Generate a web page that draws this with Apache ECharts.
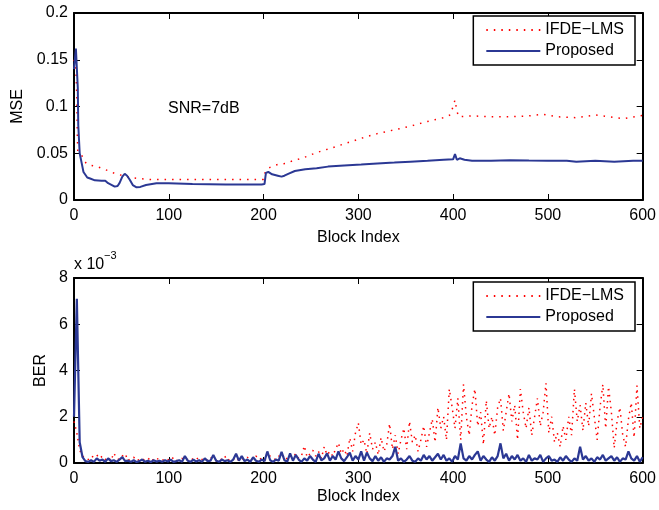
<!DOCTYPE html>
<html>
<head>
<meta charset="utf-8">
<script src="https://cdn.jsdelivr.net/npm/echarts@6/dist/echarts.min.js"></script>
<style>
  html, body { margin: 0; padding: 0; background: #fff; }
  #chart { width: 659px; height: 510px; }
</style>
</head>
<body>
<div id="chart"></div>
<script>
const legendNames = ['IFDE\u2212LMS', 'Proposed'];
const xTicks = [0, 100, 200, 300, 400, 500, 600];

// MSE, upper panel
const mseIfdeBlocks = [0, 2, 3, 3.5, 4, 6, 8, 11, 13, 18, 24, 29, 37, 44, 52, 60, 68, 80, 100, 130, 160, 190, 200,
  202, 207, 215, 223, 231, 238, 247, 254, 263, 270, 285, 303, 320, 338, 355, 373, 390, 397, 400, 402, 404, 406,
  420, 440, 460, 480, 495, 510, 530, 550, 565, 580, 600];
const mseIfde = [0.15, 0.14, 0.11, 0.07, 0.052, 0.05, 0.048, 0.042, 0.039, 0.037, 0.036, 0.034, 0.031, 0.028, 0.026,
  0.024, 0.023, 0.022, 0.022, 0.022, 0.022, 0.022, 0.022,
  0.031, 0.035, 0.038, 0.039, 0.042, 0.044, 0.047, 0.05, 0.053, 0.055, 0.06, 0.066, 0.071, 0.075, 0.079, 0.084,
  0.088, 0.091, 0.1, 0.107, 0.095, 0.089,
  0.09, 0.089, 0.089, 0.09, 0.0917, 0.089, 0.088, 0.091, 0.089, 0.087, 0.0905];

const mseProposedBlocks = [0, 2, 3.5, 4, 4.5, 6, 8, 10, 14, 17, 22, 29, 33, 36, 40, 43, 46, 48, 51, 53.5, 56, 59, 62,
  66, 70, 76, 87, 100, 125, 160, 198, 201, 202.5, 205, 209, 215, 219, 222, 226, 233, 244, 256, 268, 285, 303, 320,
  338, 355, 373, 390, 400, 402, 404, 407, 412, 420, 440, 460, 480, 500, 520, 530, 550, 570, 590, 600];
const mseProposed = [0.14, 0.162, 0.164, 0.12, 0.08, 0.05, 0.04, 0.03, 0.024, 0.023, 0.021, 0.0207, 0.0205, 0.018,
  0.016, 0.0143, 0.015, 0.018, 0.025, 0.028, 0.026, 0.0214, 0.016,
  0.0136, 0.014, 0.016, 0.0178, 0.0178, 0.017, 0.0167, 0.0167, 0.017, 0.029, 0.03, 0.0275, 0.026, 0.025, 0.026,
  0.028, 0.031, 0.033, 0.034, 0.0357, 0.037, 0.038, 0.039,
  0.04, 0.041, 0.042, 0.043, 0.0435, 0.049, 0.043, 0.0446, 0.043, 0.042, 0.042, 0.0425, 0.0422, 0.042, 0.042,
  0.041, 0.042, 0.041, 0.042, 0.042];

// BER (x 10^-3), lower panel, one value every 3 blocks
const berStep = 3;
const berIfde = [
  1.8, 1.3, 0.56, 0.3, 0.2, 0.15, 0.3, 0.25, 0.35, 0.2,
  0.3, 0.15, 0.25, 0.1, 0.43, 0.2, 0.15, 0.3, 0.4, 0.1,
  0.2, 0.25, 0.1, 0.15, 0.2, 0.1, 0.15, 0.25, 0.1, 0.2,
  0.15, 0.1, 0.2, 0.15, 0.1, 0.25, 0.1, 0.15, 0.2, 0.1,
  0.15, 0.1, 0.2, 0.25, 0.1, 0.15, 0.2, 0.1, 0.25, 0.15,
  0.1, 0.2, 0.15, 0.3, 0.1, 0.2, 0.15, 0.25, 0.1, 0.2,
  0.15, 0.25, 0.1, 0.2, 0.3, 0.15, 0.2, 0.1, 0.25, 0.3,
  0.2, 0.15, 0.3, 0.2, 0.35, 0.15, 0.3, 0.25, 0.4, 0.2,
  0.3, 0.74, 0.25, 0.4, 0.55, 0.3, 0.5, 0.2, 0.7, 0.35,
  0.5, 0.3, 0.6, 0.87, 0.4, 0.6, 0.3, 1.08, 0.5, 1.3,
  1.73, 0.8, 1.0, 0.4, 1.3, 0.6, 0.9, 0.35, 1.1, 0.5,
  0.8, 1.7, 0.6, 1.2, 0.4, 1.0, 1.5, 0.6, 1.8, 0.9,
  1.2, 0.5, 1.0, 1.6, 0.7, 1.3, 1.9, 0.9, 2.4, 1.5,
  2.0, 1.0, 3.2, 2.4, 1.5, 2.8, 1.0, 3.4, 2.0, 1.2,
  2.5, 3.2, 1.6, 2.2, 0.8, 2.7, 1.5, 2.0, 1.2, 2.4,
  2.8, 1.4, 2.2, 3.0, 1.8, 2.5, 1.0, 3.2, 2.2, 1.5,
  2.4, 1.2, 2.0, 2.8, 1.6, 2.2, 3.45, 1.3, 2.0, 0.9,
  1.3, 0.7, 1.6, 1.0, 2.0, 1.2, 3.2, 1.8, 2.5, 1.4,
  2.6, 1.6, 3.0, 2.0, 1.0, 2.4, 3.4, 1.5, 3.3, 2.2,
  0.65, 1.8, 2.4, 1.2, 0.7, 1.9, 2.6, 1.1, 3.35, 1.5,
  2.0
];
const berProposed = [
  2.0, 7.1, 0.9, 0.25, 0.08, 0.05, 0.12, 0.05, 0.2, 0.1,
  0.15, 0.05, 0.2, 0.08, 0.12, 0.05, 0.15, 0.25, 0.08, 0.1,
  0.05, 0.12, 0.04, 0.08, 0.15, 0.05, 0.1, 0.04, 0.12, 0.06,
  0.1, 0.05, 0.12, 0.06, 0.15, 0.05, 0.08, 0.12, 0.05, 0.3,
  0.1, 0.05, 0.15, 0.06, 0.12, 0.05, 0.2, 0.08, 0.1, 0.35,
  0.1, 0.05, 0.15, 0.08, 0.12, 0.05, 0.15, 0.4, 0.1, 0.3,
  0.08, 0.15, 0.05, 0.25, 0.1, 0.05, 0.15, 0.08, 0.5, 0.12,
  0.05, 0.15, 0.1, 0.48, 0.12, 0.06, 0.42, 0.1, 0.35, 0.15,
  0.05, 0.2, 0.1, 0.3, 0.15, 0.05, 0.4, 0.12, 0.2, 0.42,
  0.1, 0.3, 0.15, 0.5, 0.2, 0.08, 0.25, 0.45, 0.1, 0.3,
  0.15, 0.5, 0.1, 0.45, 0.2, 0.08, 0.3, 0.1, 0.25, 0.05,
  0.2, 0.15, 0.3, 0.7, 0.1, 0.2, 0.05, 0.15, 0.3, 0.1,
  0.05, 0.2, 0.1, 0.35, 0.15, 0.3, 0.1, 0.25, 0.4, 0.15,
  0.35, 0.1, 0.2, 0.05, 0.3, 0.15, 0.85, 0.2, 0.1, 0.3,
  0.15, 0.35, 0.5, 0.1, 0.3, 0.15, 0.05, 0.25, 0.1, 0.3,
  0.85, 0.2, 0.4, 0.1, 0.3, 0.15, 0.35, 0.1, 0.2, 0.05,
  0.35, 0.1, 0.2, 0.15, 0.35, 0.05, 0.2, 0.3, 0.1, 0.15,
  0.05, 0.25, 0.1, 0.3, 0.15, 0.05, 0.2, 0.1, 0.7, 0.15,
  0.3, 0.1, 0.2, 0.05, 0.25, 0.15, 0.35, 0.1, 0.2, 0.3,
  0.1, 0.25, 0.05, 0.2, 0.15, 0.5, 0.2, 0.1, 0.3, 0.05,
  0.25
];

const FONT = '"Liberation Sans", Arial, sans-serif';
const RED = '#ff0000';
const BLUE = '#2b3894';

const pairs = (xs, ys) => xs.map((x, i) => [x, ys[i]]);
const stepped = (ys) => ys.map((y, i) => [i * berStep, y]);

const frameAxis = (extra) => Object.assign({
  axisLine: { show: true, onZero: false, lineStyle: { color: '#000', width: 2 } },
  axisTick: { show: true, inside: true, length: 6, lineStyle: { color: '#000', width: 1 } },
  splitLine: { show: false }
}, extra);

const xAxisPair = (gridIndex, nameGap) => [
  frameAxis({
    type: 'value', gridIndex, min: 0, max: 600, interval: 100, position: 'bottom',
    name: 'Block Index', nameLocation: 'middle', nameGap,
    nameTextStyle: { color: '#000', fontSize: 16, fontFamily: FONT },
    axisLabel: { color: '#000', fontSize: 16, fontFamily: FONT, margin: 8 }
  }),
  frameAxis({
    type: 'value', gridIndex, min: 0, max: 600, interval: 100, position: 'top',
    axisLabel: { show: false }
  })
];

const yAxisPair = (gridIndex, max, interval, name, nameGap) => [
  frameAxis({
    type: 'value', gridIndex, min: 0, max, interval, position: 'left',
    name, nameLocation: 'middle', nameGap,
    nameTextStyle: { color: '#000', fontSize: 16, fontFamily: FONT },
    axisLabel: { color: '#000', fontSize: 16, fontFamily: FONT, margin: 6 }
  }),
  frameAxis({
    type: 'value', gridIndex, min: 0, max, interval, position: 'right',
    axisLabel: { show: false }
  })
];

const legendBox = (top) => ({
  orient: 'vertical', right: 24, top,
  data: legendNames,
  backgroundColor: '#fff', borderColor: '#000', borderWidth: 1.5, borderRadius: 0,
  padding: [6, 11, 6, 12], itemGap: 5, itemWidth: 54, itemHeight: 14,
  itemStyle: { opacity: 0 },
  textStyle: { color: '#000', fontSize: 16, fontFamily: FONT },
  selectedMode: false
});

const chart = echarts.init(document.getElementById('chart'), null, { renderer: 'canvas' });
chart.setOption({
  animation: false,
  backgroundColor: '#fff',
  grid: [
    { left: 74, right: 12, top: 13, height: 187 },
    { left: 74, right: 12, top: 278, height: 185 }
  ],
  xAxis: [...xAxisPair(0, 30), ...xAxisPair(1, 26)],
  yAxis: [...yAxisPair(0, 0.2, 0.05, 'MSE', 47), ...yAxisPair(1, 8, 2, 'BER', 22)],
  legend: [legendBox(16), legendBox(282)],
  graphic: [
    { type: 'text', left: 168, top: 101, style: { text: 'SNR=7dB', fill: '#000', font: '16px ' + FONT } },
    { type: 'text', left: 74, top: 257, style: { text: 'x 10', fill: '#000', font: '16px ' + FONT } },
    { type: 'text', left: 104, top: 250, style: { text: '\u22123', fill: '#000', font: '11px ' + FONT } }
  ],
  series: [
    {
      name: legendNames[0], type: 'line', xAxisIndex: 0, yAxisIndex: 0,
      data: pairs(mseIfdeBlocks, mseIfde), showSymbol: false, symbol: 'none',
      lineStyle: { color: RED, width: 1.5, type: [1.5, 6] }, itemStyle: { color: RED }
    },
    {
      name: legendNames[1], type: 'line', xAxisIndex: 0, yAxisIndex: 0,
      data: pairs(mseProposedBlocks, mseProposed), showSymbol: false, symbol: 'none',
      lineStyle: { color: BLUE, width: 2 }, itemStyle: { color: BLUE }
    },
    {
      name: legendNames[0], type: 'line', xAxisIndex: 2, yAxisIndex: 2,
      data: stepped(berIfde), showSymbol: false, symbol: 'none',
      lineStyle: { color: RED, width: 1.5, type: [1.5, 4.5] }, itemStyle: { color: RED }
    },
    {
      name: legendNames[1], type: 'line', xAxisIndex: 2, yAxisIndex: 2,
      data: stepped(berProposed), showSymbol: false, symbol: 'none',
      lineStyle: { color: BLUE, width: 2.2 }, itemStyle: { color: BLUE }
    }
  ]
});
</script>
</body>
</html>
